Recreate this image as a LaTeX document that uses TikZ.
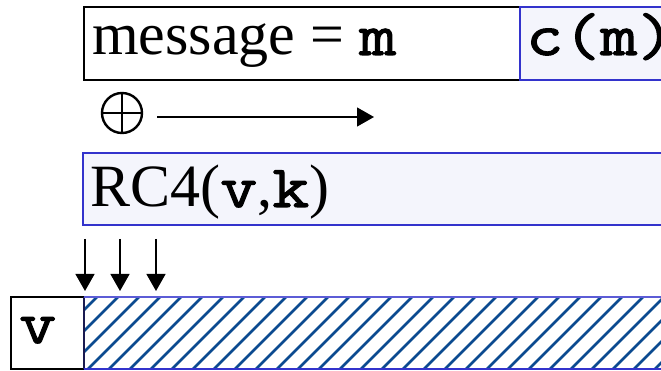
\documentclass[tikz,border=0pt]{standalone}
\usepackage{fontspec}
\setmainfont{Liberation Serif}
\newfontfamily\courfont{Latin Modern Mono}[FakeBold=1.8, FakeStretch=1.2]
\usetikzlibrary{arrows.meta}
\definecolor{boxfill}{HTML}{F4F5FC}
\definecolor{boxblue}{HTML}{3333CC}
\definecolor{hatch}{HTML}{0B4A90}
\definecolor{navy}{HTML}{1A1A50}
\newcommand{\cw}[1]{{\courfont #1}}
\tikzset{
  plainbox/.style={draw=black, line width=1.3pt, fill=white},
  bluebox/.style={draw=boxblue, line width=1.3pt, fill=boxfill},
  bigtext/.style={inner sep=0pt, anchor=base west, font=\fontsize{60}{60}\selectfont},
  flowarrow/.style={line width=1.3pt, -{Triangle[length=17pt,width=19pt]}},
  xorsym/.style={circle, draw=black, line width=2.4pt, minimum size=40pt, inner sep=0pt},
}
\begin{document}
\begin{tikzpicture}[x=1pt,y=-1pt]
\useasboundingbox (0,0) rectangle (661,371);
\clip (0,0) rectangle (661,371);
% top row
\draw[plainbox] (84,7) rectangle (520,80);
\draw[bluebox] (520,7) rectangle (700,80);
\node[bigtext] (msg) at (92,55) {message = \cw{m}};
\node[bigtext] (cm) at (526,55) {\cw{c(m)}};
% xor and arrow
\node[xorsym] (xor) at (122,113) {};
\draw[line width=2.4pt] (xor.north) -- (xor.south) (xor.west) -- (xor.east);
\coordinate (a1) at (157,117);
\coordinate (a2) at (374,117);
\draw[flowarrow] (a1) -- (a2);
% RC4 box
\draw[bluebox] (83,153) rectangle (700,225);
\node[bigtext] (rc4) at (90,207) {RC4(\cw{v},\cw{k})};
% down arrows
\foreach \i/\x in {1/85,2/120,3/156}{
  \coordinate (s\i) at (\x,239);
  \coordinate (e\i) at (\x,291);
  \draw[flowarrow] (s\i) -- (e\i);
}
% bottom row
\draw[plainbox] (11,297) rectangle (84,369);
\node[bigtext] (v) at (19,343) {\cw{v}};
\begin{scope}
\clip (84,297) rectangle (700,369);
\foreach \k in {0,...,32}{
  \draw[hatch, line width=2.6pt] ({84+21*\k-80},369) -- ({84+21*\k},289);
}
\end{scope}
\draw[draw=navy, line width=1.5pt] (84,297) -- (84,369);
\draw[draw=boxblue!80, line width=1.3pt] (84,297) -- (700,297);
\draw[draw=boxblue, line width=1.3pt] (84,369) -- (700,369);
\end{tikzpicture}
\end{document}
